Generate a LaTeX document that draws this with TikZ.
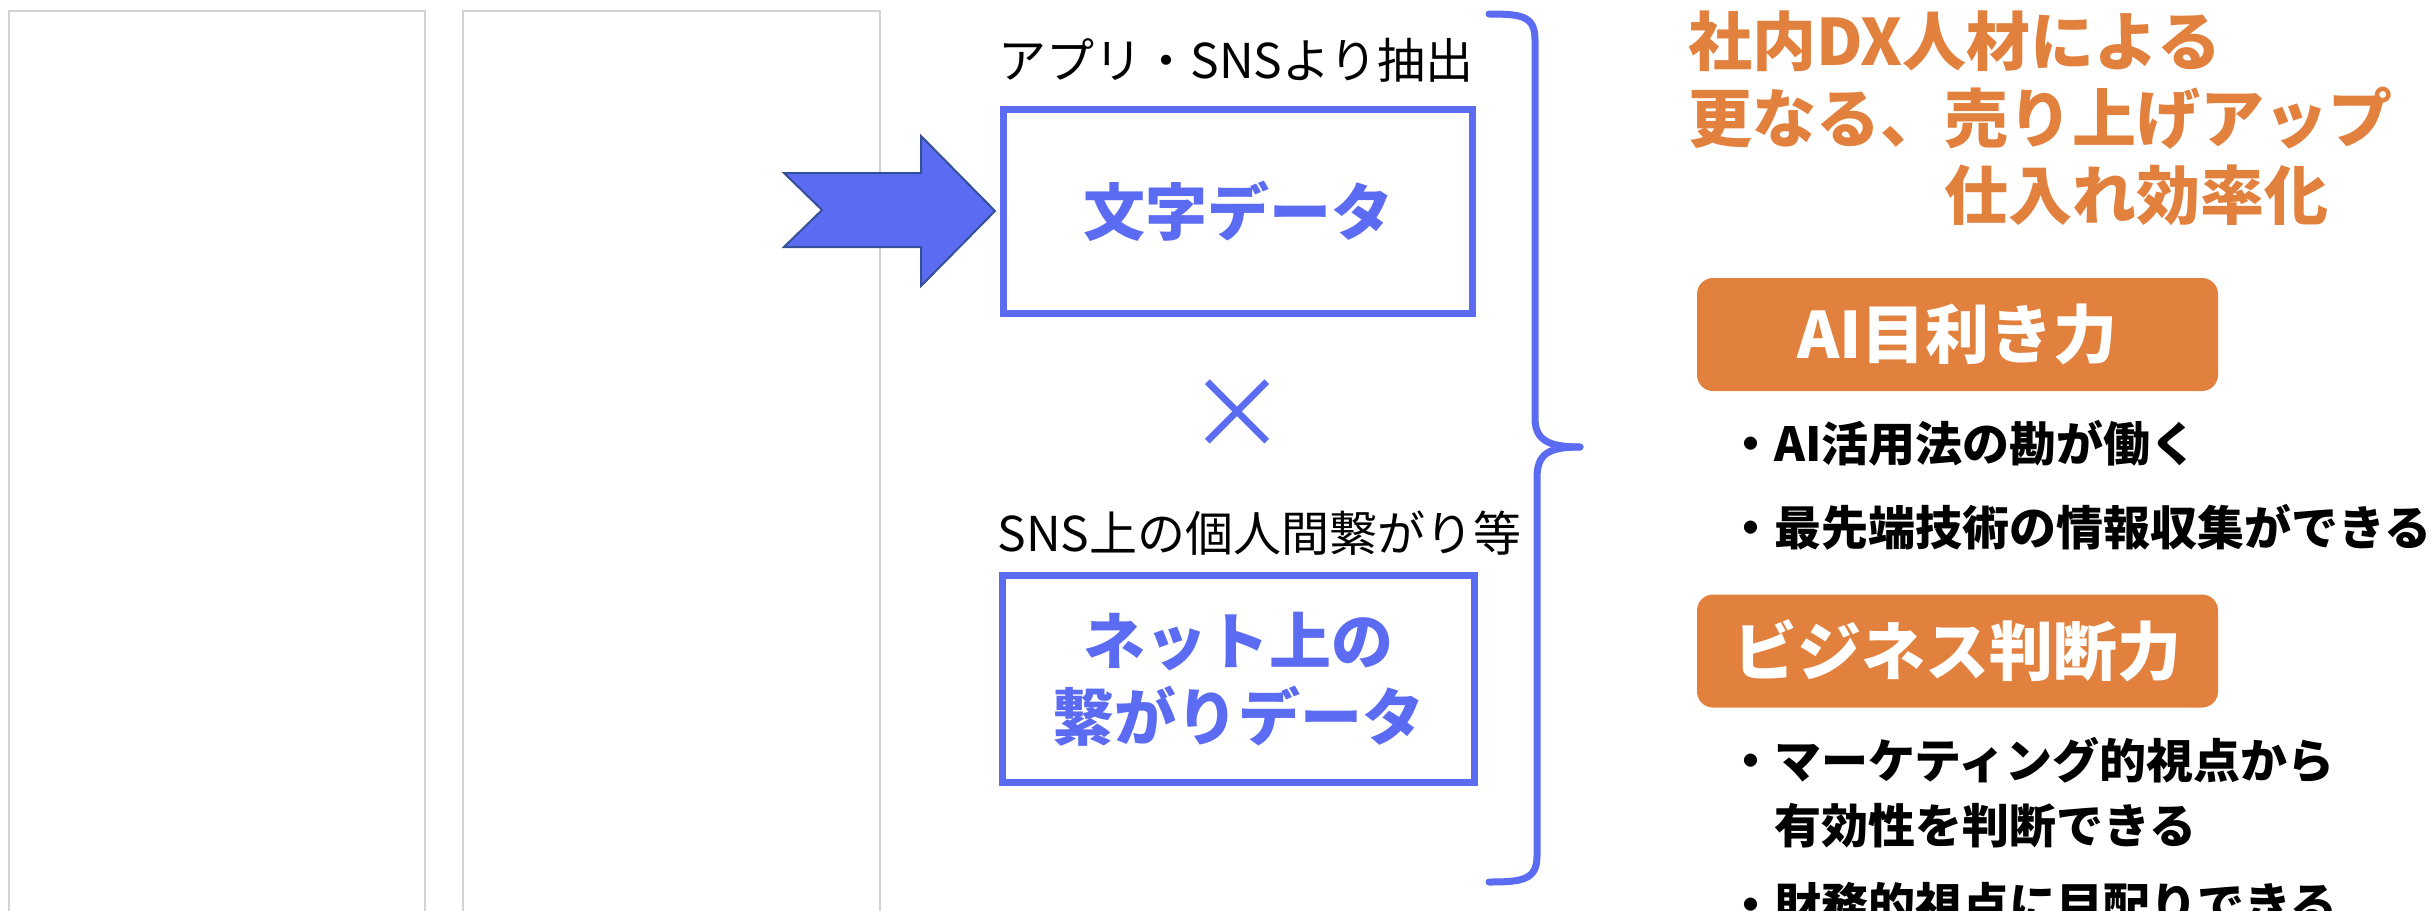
\documentclass[tikz,border=0pt]{standalone}
\usepackage{fontspec}
\setmainfont{Noto Sans CJK JP}
\definecolor{dblue}{HTML}{5B6CF2}
\definecolor{aedge}{HTML}{35509A}
\definecolor{orng}{HTML}{E2803E}
\definecolor{pgray}{HTML}{D3D3D3}
\tikzset{
  panel/.style={draw=pgray, line width=1.5pt},
  databox/.style={draw=dblue, line width=7pt, align=center, text=dblue,
    font=\fontsize{62}{76}\selectfont\bfseries, inner sep=0pt},
  toplabel/.style={font=\fontsize{48}{58}\selectfont, inner sep=0pt, text=black},
  obox/.style={fill=orng, rounded corners=16pt, minimum width=521pt, minimum height=113pt,
    text=white, font=\fontsize{64}{76}\selectfont\bfseries, inner sep=0pt},
  bullet/.style={font=\fontsize{47}{65}\selectfont\bfseries, inner sep=0pt, anchor=west, align=left, text=black},
  headline/.style={font=\fontsize{64}{77}\selectfont\bfseries, inner sep=0pt, anchor=west, align=left, text=orng},
  bracepath/.style={draw=dblue, line width=7pt, line cap=round, line join=round},
  bigarrow/.style={fill=dblue, draw=aedge, line width=2pt, line join=miter}
}
\begin{document}
\begin{tikzpicture}[x=1pt,y=-1pt]
\useasboundingbox (0,0) rectangle (2435,910);
\clip (0,0) rectangle (2435,910);
\fill[white] (0,0) rectangle (2435,910);
% panels
\draw[panel] (9,11) rectangle (425,960);
\draw[panel] (463,11) rectangle (880,960);
% data boxes
\node[databox, minimum width=469pt, minimum height=204pt] (box1) at (1238,211.5) {文字データ};
\node[databox, minimum width=472pt, minimum height=207pt] (box2) at (1238.5,679) {ネット上の\\繋がりデータ};
\node[toplabel] (lab1) at (1236,60) {アプリ・SNSより抽出};
\node[toplabel] (lab2) at (1259.5,533) {SNS上の個人間繋がり等};
\node[text=dblue, font=\fontsize{100}{100}\selectfont, inner sep=0pt] (times) at (1237,415) {×};
% arrow into box1
\path[bigarrow] (784,173) -- (921,173) -- (921,136) -- (995,211) -- (921,286) -- (921,247) -- (784,247) -- (822,210) -- cycle;
% brace
\draw[bracepath] (1489,14) .. controls (1522,14) and (1535,16) .. (1535,40) -- (1535,418)
  .. controls (1535,440) and (1548,447) .. (1580,447);
\draw[bracepath] (1580,447) .. controls (1548,447) and (1537,454) .. (1537,478) -- (1537,856)
  .. controls (1537,880) and (1522,882) .. (1489,882);
% right side
\node[headline] (head) at (1688,118) {社内DX人材による\\更なる、売り上げアップ\\　　　　仕入れ効率化};
\node[obox] (ai) at (1957.5,334.5) {AI目利き力};
\node[bullet] (b1) at (1727,443) {・AI活用法の勘が働く};
\node[bullet] (b2) at (1727,527) {・最先端技術の情報収集ができる};
\node[obox] (biz) at (1957.5,651) {ビジネス判断力};
\node[bullet] (b3) at (1727,792.5) {・マーケティング的視点から\\　有効性を判断できる};
\node[bullet] (b4) at (1727,905) {・財務的視点に目配りできる};
\end{tikzpicture}
\end{document}
